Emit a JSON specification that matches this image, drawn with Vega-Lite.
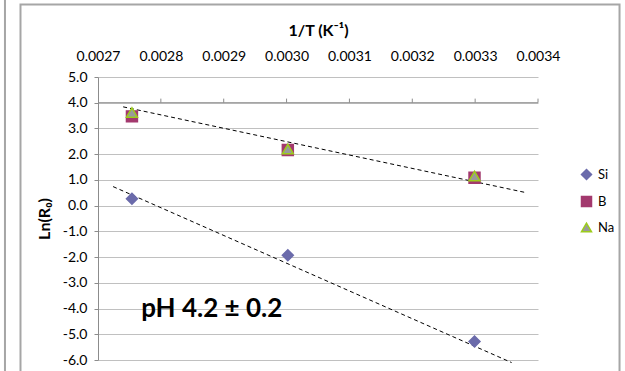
{
  "$schema": "https://vega.github.io/schema/vega-lite/v6.json",
  "width": 440,
  "height": 283,
  "autosize": {"type": "none"},
  "padding": {"left": 98, "top": 77, "right": 87, "bottom": 11},
  "background": "white",
  "config": {"view": {"stroke": null}, "font": "Lato"},
  "resolve": {"axis": {"x": "independent", "y": "independent"}},
  "datasets": {
    "points": [
      {"series": "Si", "invT": 0.002754, "lnR0": 0.27},
      {"series": "Si", "invT": 0.003002, "lnR0": -1.93},
      {"series": "Si", "invT": 0.003299, "lnR0": -5.28},
      {"series": "B", "invT": 0.002754, "lnR0": 3.47},
      {"series": "B", "invT": 0.003002, "lnR0": 2.16},
      {"series": "B", "invT": 0.003299, "lnR0": 1.08},
      {"series": "Na", "invT": 0.002754, "lnR0": 3.62},
      {"series": "Na", "invT": 0.003002, "lnR0": 2.2},
      {"series": "Na", "invT": 0.003299, "lnR0": 1.15}
    ],
    "trend": [
      {"fit": "B/Na", "invT": 0.00274, "lnR0": 3.84},
      {"fit": "B/Na", "invT": 0.003382, "lnR0": 0.5},
      {"fit": "Si", "invT": 0.002724, "lnR0": 0.74},
      {"fit": "Si", "invT": 0.003358, "lnR0": -6.1}
    ],
    "xticks": [
      {"invT": 0.0028}, {"invT": 0.0029}, {"invT": 0.003}, {"invT": 0.0031},
      {"invT": 0.0032}, {"invT": 0.0033}, {"invT": 0.0034}
    ]
  },
  "layer": [
    {
      "data": {"name": "points"},
      "mark": {"type": "point", "opacity": 0},
      "encoding": {
        "x": {"field": "invT", "type": "quantitative",
          "scale": {"domain": [0.0027, 0.0034], "nice": false, "zero": false},
          "axis": {
            "orient": "top", "title": "1/T (K⁻¹)", "titleFont": "Lato", "titleFontWeight": "bold", "titleFontSize": 16,
            "titleColor": "#000000", "labelFont": "Lato", "labelFontSize": 14, "labelColor": "#000000",
            "format": ".4f", "values": [0.0027, 0.0028, 0.0029, 0.003, 0.0031, 0.0032, 0.0033, 0.0034],
            "ticks": false, "tickSize": 0, "domain": false, "grid": false, "labelPadding": 14, "titlePadding": 11,
            "labelFlush": false, "labelOverlap": false
          }},
        "y": {"field": "lnR0", "type": "quantitative",
          "scale": {"domain": [-6, 5], "nice": false, "zero": false},
          "axis": {
            "orient": "left", "title": "Ln(R₀)", "titleFont": "Lato", "titleFontWeight": "bold", "titleFontSize": 16,
            "titleColor": "#000000", "titlePadding": 10, "labelFont": "Lato", "labelFontSize": 14, "labelColor": "#000000",
            "values": [-6, -5, -4, -3, -2, -1, 0, 1, 2, 3, 4, 5],
            "labelExpr": "replace(format(datum.value, '.1f'), '\u2212', '-')",
            "grid": true, "gridColor": "#c0c0c0", "gridWidth": 1,
            "domain": true, "domainColor": "#8c8c8c", "tickColor": "#8c8c8c", "tickSize": 4, "labelPadding": 7,
            "labelOverlap": false
          }}
      }
    },
    {
      "data": {"values": [{}]},
      "mark": {"type": "rect", "fill": null, "stroke": "#a6a6a6", "strokeWidth": 2, "clip": false},
      "encoding": {
        "x": {"datum": 0.0025767, "type": "quantitative", "axis": null},
        "x2": {"datum": 0.0035297},
        "y": {"datum": 7.818, "type": "quantitative", "axis": null},
        "y2": {"datum": -7}
      }
    },
    {
      "data": {"values": [{}]},
      "mark": {"type": "rule", "stroke": "#a6a6a6", "strokeWidth": 2, "clip": false},
      "encoding": {
        "x": {"datum": 0.002552, "type": "quantitative", "axis": null},
        "y": {"datum": 8.1, "type": "quantitative", "axis": null},
        "y2": {"datum": -7}
      }
    },
    {
      "data": {"values": [{}]},
      "mark": {"type": "rule", "stroke": "#8c8c8c", "strokeWidth": 1},
      "encoding": {
        "x": {"datum": 0.0027, "type": "quantitative", "axis": null},
        "x2": {"datum": 0.0034},
        "y": {"datum": 4, "type": "quantitative", "axis": null}
      }
    },
    {
      "data": {"name": "xticks"},
      "mark": {"type": "rule", "stroke": "#8c8c8c", "strokeWidth": 1},
      "encoding": {
        "x": {"field": "invT", "type": "quantitative", "axis": null},
        "y": {"datum": 4, "type": "quantitative", "axis": null},
        "y2": {"datum": 4.16}
      }
    },
    {
      "data": {"name": "trend"},
      "mark": {"type": "line", "stroke": "#000000", "strokeWidth": 1, "strokeDash": [4, 3], "clip": false},
      "encoding": {
        "x": {"field": "invT", "type": "quantitative", "axis": null},
        "y": {"field": "lnR0", "type": "quantitative", "axis": null},
        "detail": {"field": "fit"}
      }
    },
    {
      "data": {"name": "points"},
      "mark": {"type": "point", "filled": true, "size": 120, "strokeWidth": 1.5, "opacity": 1},
      "encoding": {
        "x": {"field": "invT", "type": "quantitative", "axis": null},
        "y": {"field": "lnR0", "type": "quantitative", "axis": null},
        "fill": {"field": "series", "type": "nominal", "sort": null,
          "scale": {"domain": ["Si", "B", "Na"], "range": ["#6b6bab", "#a3396e", "#9a9a9a"]},
          "legend": {"orient": "none", "legendX": 482, "legendY": 91, "title": null, "padding": 0,
            "labelFont": "Lato", "labelFontSize": 13, "labelColor": "#000000", "symbolSize": 100,
            "symbolStrokeWidth": 1.5, "rowPadding": 10, "labelOffset": 5}},
        "stroke": {"field": "series", "type": "nominal", "sort": null,
          "scale": {"domain": ["Si", "B", "Na"], "range": ["#6b6bab", "#a3396e", "#9ccc1c"]},
          "legend": {"orient": "none", "legendX": 482, "legendY": 91, "title": null, "padding": 0,
            "labelFont": "Lato", "labelFontSize": 13, "labelColor": "#000000", "symbolSize": 100,
            "symbolStrokeWidth": 1.5, "rowPadding": 10, "labelOffset": 5}},
        "shape": {"field": "series", "type": "nominal", "sort": null,
          "scale": {"domain": ["Si", "B", "Na"], "range": ["diamond", "square", "triangle-up"]},
          "legend": {"orient": "none", "legendX": 482, "legendY": 91, "title": null, "padding": 0,
            "labelFont": "Lato", "labelFontSize": 13, "labelColor": "#000000", "symbolSize": 100,
            "symbolStrokeWidth": 1.5, "rowPadding": 10, "labelOffset": 5}}
      }
    },
    {
      "data": {"values": [{"label": "pH 4.2 ± 0.2"}]},
      "mark": {"type": "text", "font": "Lato", "fontWeight": "bold", "fontSize": 26, "color": "#000000",
        "align": "center", "baseline": "middle"},
      "encoding": {
        "x": {"datum": 0.002881, "type": "quantitative", "axis": null},
        "y": {"datum": -4, "type": "quantitative", "axis": null},
        "text": {"field": "label"}
      }
    }
  ]
}
